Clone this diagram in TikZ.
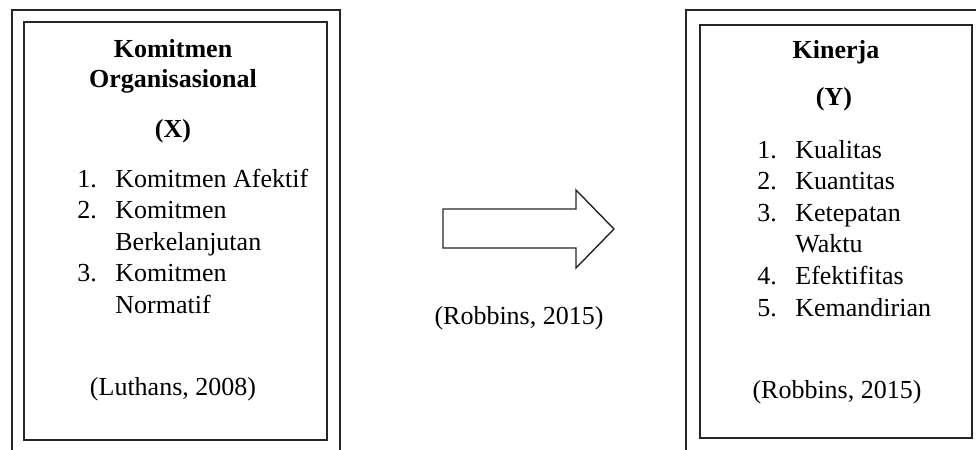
\documentclass[tikz,border=0pt]{standalone}
\usepackage{fontspec}
\setmainfont{Liberation Serif}
\usetikzlibrary{positioning, calc}

\begin{document}
\begin{tikzpicture}[x=0.5pt, y=-0.5pt,
    frame/.style={line width=0.7pt, black!85},
    txt/.style={font=\fontsize{13}{15.8}\selectfont, inner sep=0pt},
    ttl/.style={txt, font=\fontsize{13}{15.8}\selectfont\bfseries}]
        \useasboundingbox (0,0) rectangle (976,450);

        \draw[frame] (12,460) -- (12,10) -- (340,10) -- (340,460);  %outer left
        \draw[frame] (24,22) rectangle (327,440);  %inner left
        \draw[frame] (686,460) -- (686,10) -- (990,10);  %outer right
        \draw[frame] (700,25) rectangle (972,438);  %inner right

        % variabel X
        \node[ttl, anchor=base] (xhead) at (173,57) {Komitmen};
        \node[ttl, anchor=base] (xhead2) at (173,87) {Organisasional};
        \node[ttl, anchor=base] (xvar) at (173,137) {(X)};
        \node[txt, anchor=base west] (xlist) at (77,187) {\begin{tabular}[t]{@{}p{19pt}@{}l@{}}
            1. & Komitmen Afektif\\
            2. & Komitmen\\
               & Berkelanjutan\\
            3. & Komitmen\\
               & Normatif
          \end{tabular}};
        \node[txt, anchor=base] (xsrc) at (173,395) {(Luthans, 2008)};

        % panah
        \draw[frame] (443,209) -- (576,209) -- (576,190) -- (614,229)
          -- (576,268) -- (576,248) -- (443,248) -- cycle;
        \node[txt, anchor=base] (asrc) at (519,324) {(Robbins, 2015)};

        % variabel Y
        \node[ttl, anchor=base] (yhead) at (836,58) {Kinerja};
        \node[ttl, anchor=base] (yvar) at (834,105) {(Y)};
        \node[txt, anchor=base west] (ylist) at (757,158) {\begin{tabular}[t]{@{}p{19pt}@{}l@{}}
            1. & Kualitas\\
            2. & Kuantitas\\
            3. & Ketepatan\\
               & Waktu\\
            4. & Efektifitas\\
            5. & Kemandirian
          \end{tabular}};
        \node[txt, anchor=base] (ysrc) at (837,398) {(Robbins, 2015)};
      \end{tikzpicture}
\end{document}
